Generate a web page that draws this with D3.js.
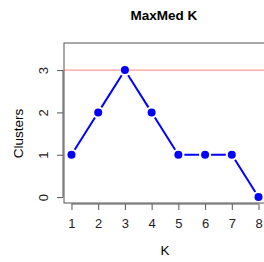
<!DOCTYPE html>
<html>
<head>
<meta charset="utf-8">
<script src="https://cdn.jsdelivr.net/npm/d3@7"></script>
<style>
  body { margin: 0; background: #fff; }
  svg { display: block; font-family: "Liberation Sans", Arial, sans-serif; }
</style>
</head>
<body>
<div id="chart"></div>
<script>
"use strict";

const kValues = [1, 2, 3, 4, 5, 6, 7, 8];
const clusters = [1, 2, 3, 2, 1, 1, 1, 0];
const xTicks = [1, 2, 3, 4, 5, 6, 7, 8];
const yTicks = [0, 1, 2, 3];
const refLine = 3;

const width = 264, height = 262;
const margin = {top: 43, right: -2, bottom: 59, left: 64};
const w = width - margin.left - margin.right;
const h = height - margin.top - margin.bottom;

const x = d3.scaleLinear().domain([0.72, 8.28]).range([0, w]);
const y = d3.scaleLinear().domain([-0.14, 3.64]).range([h, 0]);

const svg = d3.select("#chart").append("svg")
    .attr("width", width)
    .attr("height", height);

svg.append("text")
    .attr("x", 164)
    .attr("y", 20)
    .attr("text-anchor", "middle")
    .style("font-size", "13.5px")
    .style("font-weight", "bold")
    .text("MaxMed K");

const g = svg.append("g")
    .attr("transform", "translate(" + margin.left + "," + margin.top + ")");

// reference line
g.append("line")
    .attr("x1", 0).attr("x2", w)
    .attr("y1", y(refLine)).attr("y2", y(refLine))
    .attr("stroke", "#ff8080")
    .attr("stroke-width", 1);

// box
g.append("rect")
    .attr("x", 0).attr("y", 0)
    .attr("width", w).attr("height", h)
    .attr("fill", "none")
    .attr("stroke", "#555")
    .attr("stroke-width", 1);

// x axis
const xAxis = g.append("g")
    .attr("transform", "translate(0," + (h + 1) + ")")
    .call(d3.axisBottom(x).tickValues(xTicks).tickFormat(d3.format("d"))
        .tickSize(6).tickPadding(9).tickSizeOuter(0));
xAxis.select(".domain").attr("d", "M" + x(1) + ",0H" + x(8)).attr("stroke", "#555");
xAxis.selectAll(".tick line").attr("stroke", "#555");
xAxis.selectAll("text").style("font-size", "13px").attr("fill", "#222");

// y axis
const yAxis = g.append("g")
    .attr("transform", "translate(-1,0)")
    .call(d3.axisLeft(y).tickValues(yTicks).tickFormat(d3.format("d"))
        .tickSize(6).tickPadding(5).tickSizeOuter(0));
yAxis.select(".domain").attr("d", "M0," + y(0) + "V" + y(3)).attr("stroke", "#555");
yAxis.selectAll(".tick line").attr("stroke", "#555");
yAxis.selectAll("text")
    .style("font-size", "13px")
    .attr("fill", "#222")
    .attr("text-anchor", "middle")
    .attr("x", 0)
    .attr("dy", "0.35em")
    .attr("transform", "translate(-20,0)rotate(-90)");

// axis titles
svg.append("text")
    .attr("x", margin.left + x(4.5))
    .attr("y", 255)
    .attr("text-anchor", "middle")
    .style("font-size", "13.5px")
    .text("K");

svg.append("text")
    .attr("transform", "translate(23," + (margin.top + y(1.5)) + ")rotate(-90)")
    .attr("text-anchor", "middle")
    .style("font-size", "13.5px")
    .text("Clusters");

// line segments with gaps around points (type = "b")
const pts = kValues.map((k, i) => [x(k), y(clusters[i])]);
const gap = 6;
const segs = d3.pairs(pts).map(([a, b]) => {
    const dx = b[0] - a[0], dy = b[1] - a[1];
    const len = Math.hypot(dx, dy);
    const ux = dx / len, uy = dy / len;
    return [a[0] + ux * gap, a[1] + uy * gap, b[0] - ux * gap, b[1] - uy * gap];
});

g.selectAll(".seg")
    .data(segs)
    .join("line")
    .attr("class", "seg")
    .attr("x1", d => d[0]).attr("y1", d => d[1])
    .attr("x2", d => d[2]).attr("y2", d => d[3])
    .attr("stroke", "#0000ff")
    .attr("stroke-width", 2);

g.selectAll(".pt")
    .data(kValues)
    .join("circle")
    .attr("class", "pt")
    .attr("cx", d => x(d))
    .attr("cy", (d, i) => y(clusters[i]))
    .attr("r", 4)
    .attr("fill", "#0000ff");
</script>
</body>
</html>
